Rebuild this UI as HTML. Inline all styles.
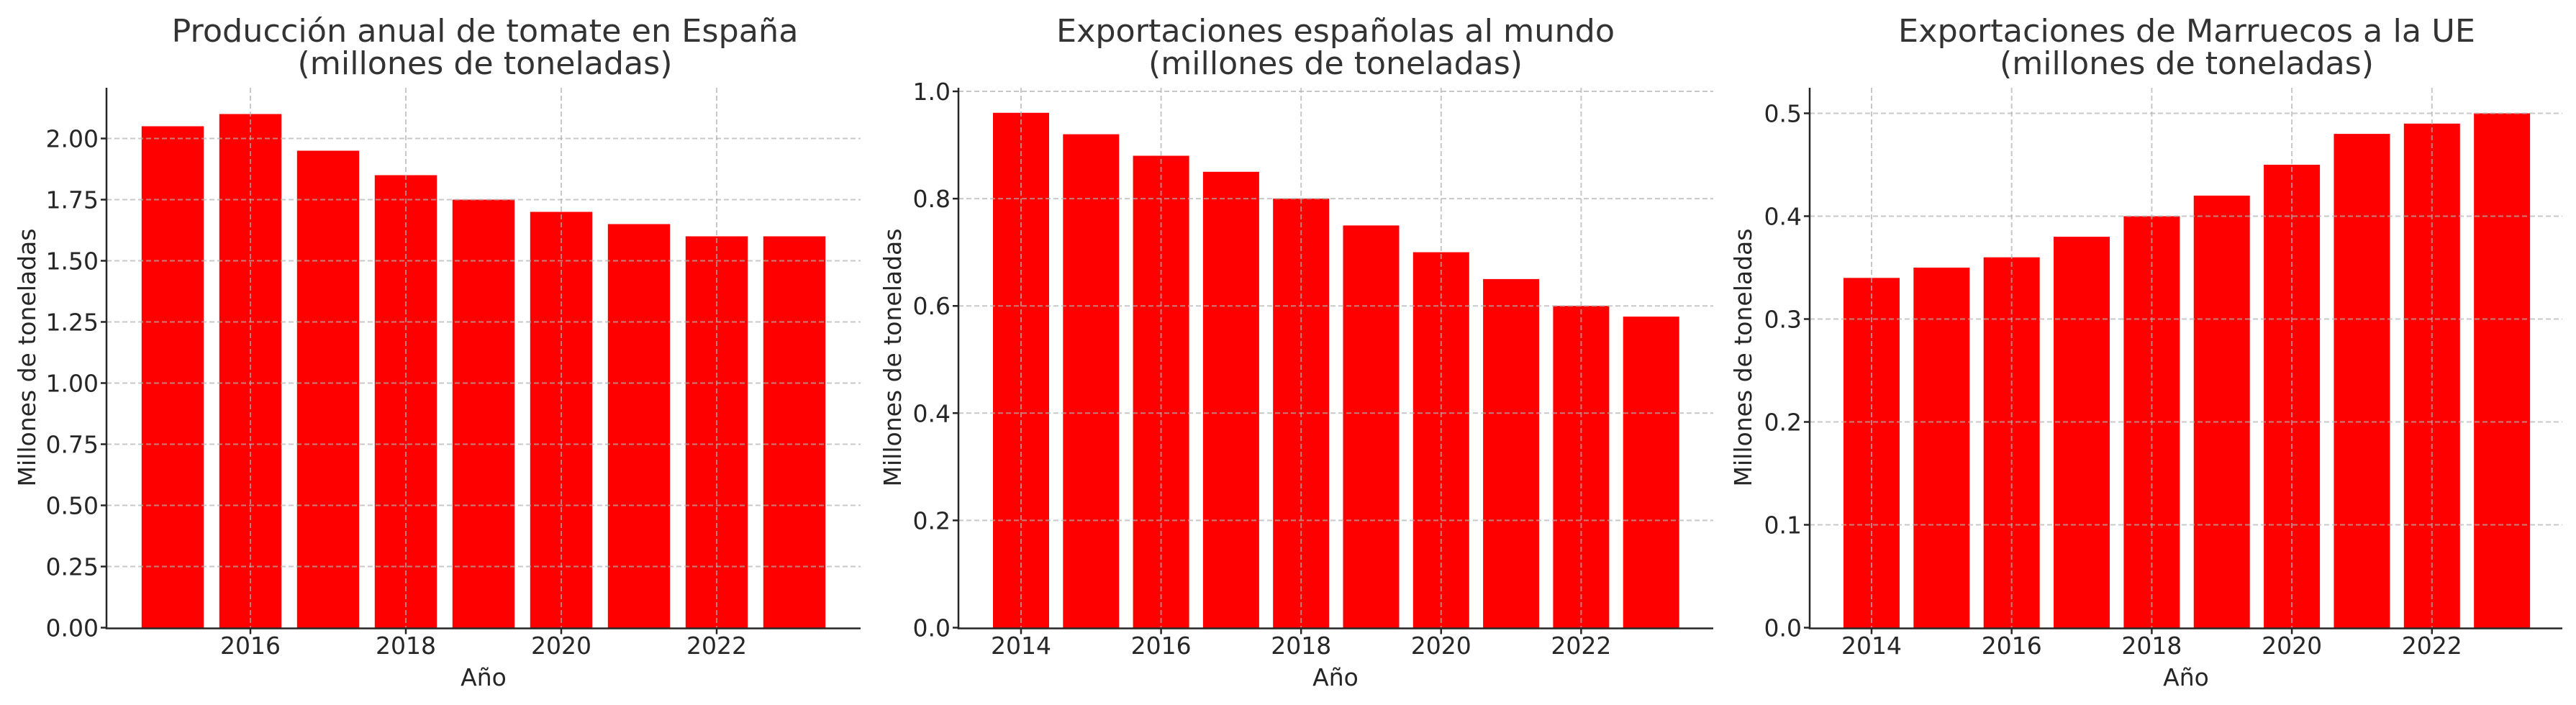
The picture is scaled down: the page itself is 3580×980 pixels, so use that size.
<!DOCTYPE html>
<html><head><meta charset="utf-8"><style>html,body{margin:0;padding:0;background:#fff}svg{display:block}</style></head>
<body>
<svg xmlns="http://www.w3.org/2000/svg" width="3580" height="980" viewBox="0 0 3580 980" font-family="DejaVu Sans, Liberation Sans, sans-serif" fill="#262626">
<rect width="3580" height="980" fill="#fff"/>
<!-- Panel 1 -->
<g fill="#ff0000">
<rect x="196.8" y="175.5" width="86.4" height="697"/>
<rect x="304.8" y="158.5" width="86.4" height="714"/>
<rect x="412.8" y="209.5" width="86.4" height="663"/>
<rect x="520.8" y="243.5" width="86.4" height="629"/>
<rect x="628.8" y="277.5" width="86.4" height="595"/>
<rect x="736.8" y="294.5" width="86.4" height="578"/>
<rect x="844.8" y="311.5" width="86.4" height="561"/>
<rect x="952.8" y="328.5" width="86.4" height="544"/>
<rect x="1060.8" y="328.5" width="86.4" height="544"/>
</g>
<g stroke="#b0b0b0" stroke-opacity="0.7" stroke-width="2" stroke-dasharray="7,4">
<path d="M348 122V872M564 122V872M780 122V872M996 122V872"/>
<path d="M148 787.5H1196M148 702.5H1196M148 617.5H1196M148 532.5H1196M148 447.5H1196M148 362.5H1196M148 277.5H1196M148 192.5H1196"/>
</g>
<g stroke="#262626" stroke-width="2.5" fill="none">
<path d="M148 122V873.5H1196"/>
<path d="M348 873.5v8M564 873.5v8M780 873.5v8M996 873.5v8"/>
<path d="M148 872.5h-8M148 787.5h-8M148 702.5h-8M148 617.5h-8M148 532.5h-8M148 447.5h-8M148 362.5h-8M148 277.5h-8M148 192.5h-8"/>
</g>
<g font-size="33" text-anchor="end">
<text x="137" y="884.5">0.00</text><text x="137" y="799.5">0.25</text><text x="137" y="714.5">0.50</text><text x="137" y="629.5">0.75</text><text x="137" y="544.5">1.00</text><text x="137" y="459.5">1.25</text><text x="137" y="374.5">1.50</text><text x="137" y="289.5">1.75</text><text x="137" y="204.5">2.00</text>
</g>
<g font-size="33" text-anchor="middle">
<text x="348" y="909">2016</text><text x="564" y="909">2018</text><text x="780" y="909">2020</text><text x="996" y="909">2022</text>
<text x="672" y="953">Año</text>
</g>
<text font-size="33" text-anchor="middle" transform="translate(49,497) rotate(-90)">Millones de toneladas</text>
<g font-size="44" text-anchor="middle" fill="#333">
<text x="674" y="58" textLength="871" lengthAdjust="spacingAndGlyphs">Producción anual de tomate en España</text>
<text x="674" y="103" textLength="521" lengthAdjust="spacingAndGlyphs">(millones de toneladas)</text>
</g>

<!-- Panel 2 -->
<g fill="#ff0000">
<rect x="1380" y="156.8" width="78" height="715.7"/>
<rect x="1477.3" y="186.6" width="78" height="685.9"/>
<rect x="1574.6" y="216.5" width="78" height="656"/>
<rect x="1671.9" y="238.8" width="78" height="633.7"/>
<rect x="1769.2" y="276.1" width="78" height="596.4"/>
<rect x="1866.5" y="313.4" width="78" height="559.1"/>
<rect x="1963.8" y="350.6" width="78" height="521.9"/>
<rect x="2061.1" y="387.9" width="78" height="484.6"/>
<rect x="2158.4" y="425.2" width="78" height="447.3"/>
<rect x="2255.7" y="440.1" width="78" height="432.4"/>
</g>
<g stroke="#b0b0b0" stroke-opacity="0.7" stroke-width="2" stroke-dasharray="7,4">
<path d="M1419 122V872M1613.6 122V872M1808.2 122V872M2002.8 122V872M2197.4 122V872"/>
<path d="M1332 723.4H2381M1332 574.3H2381M1332 425.2H2381M1332 276.1H2381M1332 127H2381"/>
</g>
<g stroke="#262626" stroke-width="2.5" fill="none">
<path d="M1332 122V873.5H2381"/>
<path d="M1419 873.5v8M1613.6 873.5v8M1808.2 873.5v8M2002.8 873.5v8M2197.4 873.5v8"/>
<path d="M1332 872.5h-8M1332 723.4h-8M1332 574.3h-8M1332 425.2h-8M1332 276.1h-8M1332 127h-8"/>
</g>
<g font-size="33" text-anchor="end">
<text x="1321" y="884.5">0.0</text><text x="1321" y="735.4">0.2</text><text x="1321" y="586.3">0.4</text><text x="1321" y="437.2">0.6</text><text x="1321" y="288.1">0.8</text><text x="1321" y="139">1.0</text>
</g>
<g font-size="33" text-anchor="middle">
<text x="1419" y="909">2014</text><text x="1613.6" y="909">2016</text><text x="1808.2" y="909">2018</text><text x="2002.8" y="909">2020</text><text x="2197.4" y="909">2022</text>
<text x="1856" y="953">Año</text>
</g>
<text font-size="33" text-anchor="middle" transform="translate(1252,497) rotate(-90)">Millones de toneladas</text>
<g font-size="44" text-anchor="middle" fill="#333">
<text x="1856" y="58" textLength="776" lengthAdjust="spacingAndGlyphs">Exportaciones españolas al mundo</text>
<text x="1856" y="103" textLength="520" lengthAdjust="spacingAndGlyphs">(millones de toneladas)</text>
</g>

<!-- Panel 3 -->
<g fill="#ff0000">
<rect x="2562" y="386.3" width="78" height="486.2"/>
<rect x="2659.35" y="372" width="78" height="500.5"/>
<rect x="2756.7" y="357.7" width="78" height="514.8"/>
<rect x="2854.05" y="329.1" width="78" height="543.4"/>
<rect x="2951.4" y="300.5" width="78" height="572"/>
<rect x="3048.75" y="271.9" width="78" height="600.6"/>
<rect x="3146.1" y="229" width="78" height="643.5"/>
<rect x="3243.45" y="186.1" width="78" height="686.4"/>
<rect x="3340.8" y="171.8" width="78" height="700.7"/>
<rect x="3438.15" y="157.5" width="78" height="715"/>
</g>
<g stroke="#b0b0b0" stroke-opacity="0.7" stroke-width="2" stroke-dasharray="7,4">
<path d="M2601 122V872M2795.7 122V872M2990.4 122V872M3185.1 122V872M3379.8 122V872"/>
<path d="M2515 729.5H3561M2515 586.5H3561M2515 443.5H3561M2515 300.5H3561M2515 157.5H3561"/>
</g>
<g stroke="#262626" stroke-width="2.5" fill="none">
<path d="M2515 122V873.5H3561"/>
<path d="M2601 873.5v8M2795.7 873.5v8M2990.4 873.5v8M3185.1 873.5v8M3379.8 873.5v8"/>
<path d="M2515 872.5h-8M2515 729.5h-8M2515 586.5h-8M2515 443.5h-8M2515 300.5h-8M2515 157.5h-8"/>
</g>
<g font-size="33" text-anchor="end">
<text x="2504" y="884.5">0.0</text><text x="2504" y="741.5">0.1</text><text x="2504" y="598.5">0.2</text><text x="2504" y="455.5">0.3</text><text x="2504" y="312.5">0.4</text><text x="2504" y="169.5">0.5</text>
</g>
<g font-size="33" text-anchor="middle">
<text x="2601" y="909">2014</text><text x="2795.7" y="909">2016</text><text x="2990.4" y="909">2018</text><text x="3185.1" y="909">2020</text><text x="3379.8" y="909">2022</text>
<text x="3038" y="953">Año</text>
</g>
<text font-size="33" text-anchor="middle" transform="translate(2434,497) rotate(-90)">Millones de toneladas</text>
<g font-size="44" text-anchor="middle" fill="#333">
<text x="3039" y="58" textLength="802" lengthAdjust="spacingAndGlyphs">Exportaciones de Marruecos a la UE</text>
<text x="3039" y="103" textLength="520" lengthAdjust="spacingAndGlyphs">(millones de toneladas)</text>
</g>
</svg>
</body></html>
